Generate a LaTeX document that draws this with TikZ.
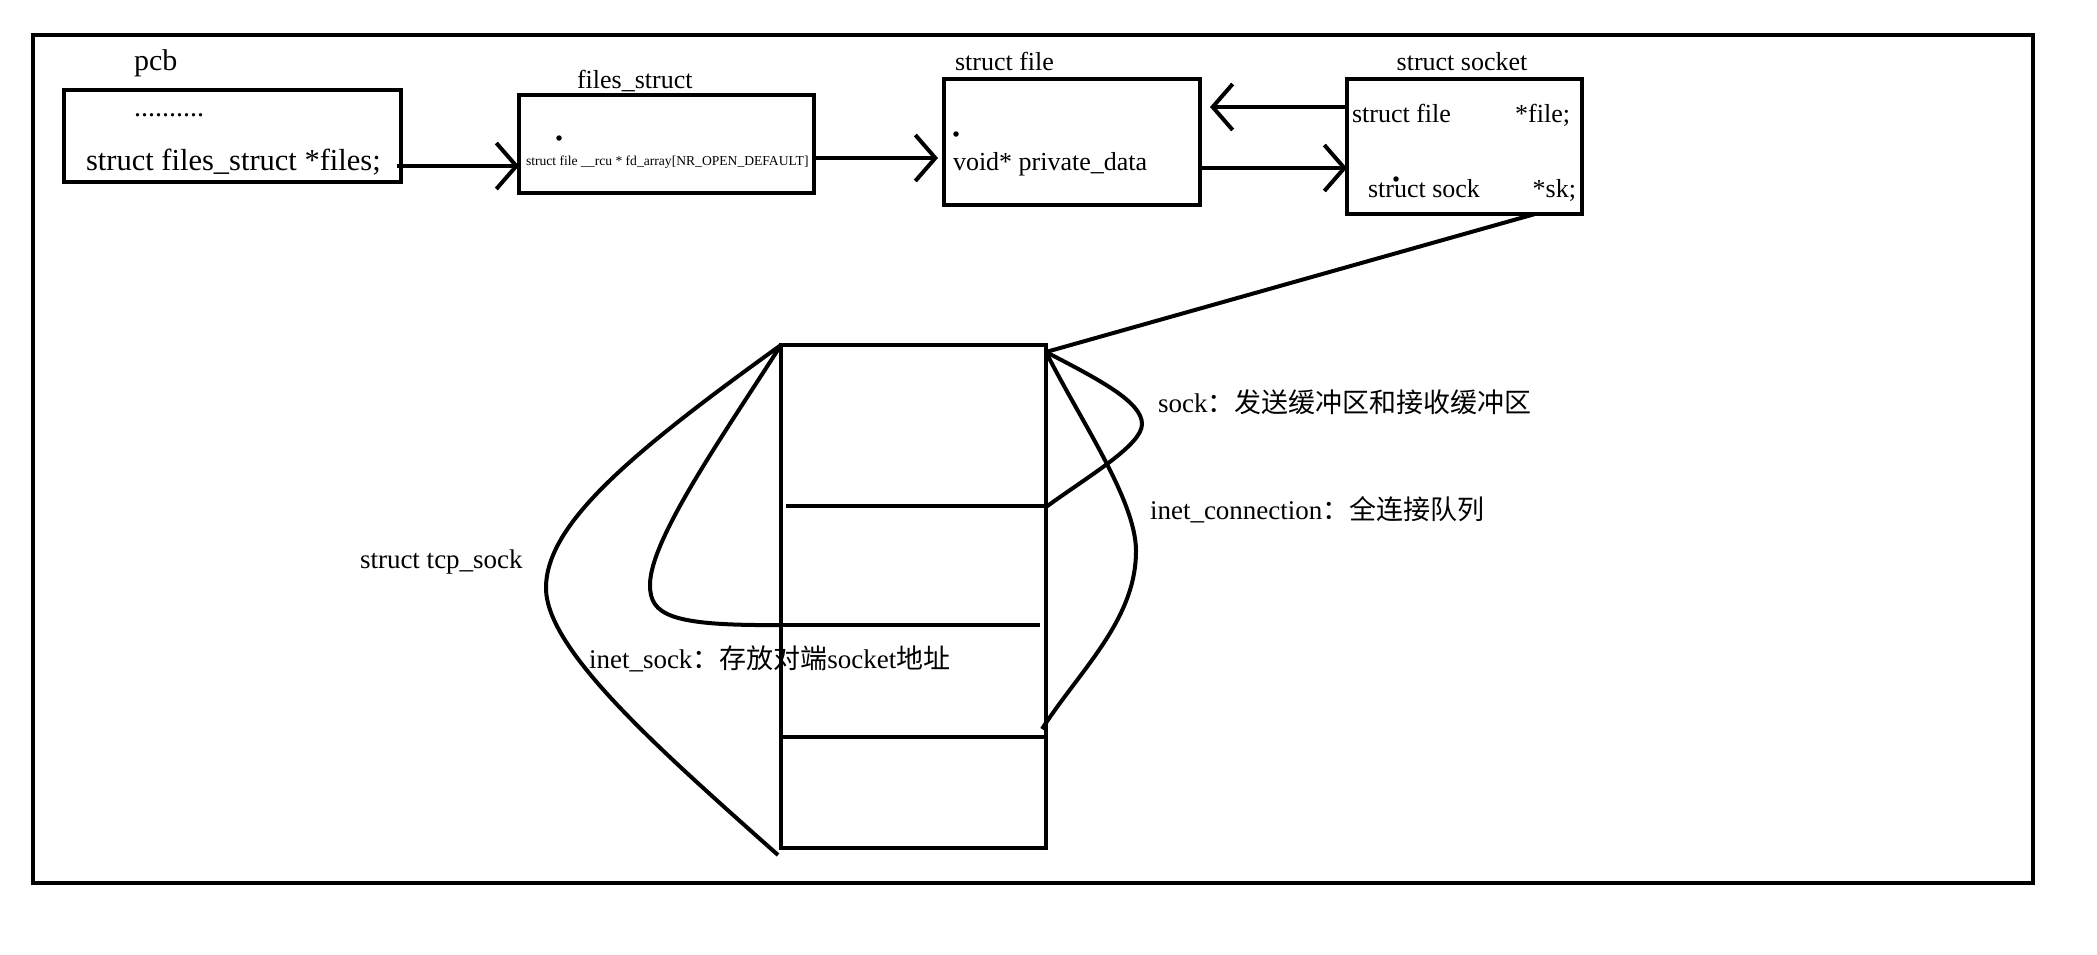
\documentclass[tikz,border=0pt]{standalone}
\usepackage{fontspec}
\setmainfont{Liberation Serif}
\newfontfamily\cjk{Noto Sans CJK SC}
\usetikzlibrary{arrows.meta}
\begin{document}
\begin{tikzpicture}[x=1pt,y=-1pt,
  box/.style={draw,line width=4.5pt,inner sep=0pt,outer sep=0pt},
  div/.style={line width=4pt},
  arr/.style={line width=4pt,-{Straight Barb[length=20pt,width=46pt]}},
  curve/.style={line width=4pt},
  txt/.style={inner sep=0pt,outer sep=0pt,anchor=base west},
  big/.style={font=\fontsize{30.5}{34}\selectfont},
  mid/.style={font=\fontsize{26}{30}\selectfont},
  lab/.style={font=\fontsize{27}{31}\selectfont},
  tiny/.style={font=\fontsize{13.6}{15}\selectfont},
  dotp/.style={circle,fill,inner sep=0pt,minimum size=5.5pt}]
\useasboundingbox (0,0) rectangle (2097,954);
\fill[white] (0,0) rectangle (2097,954);
% frame
\node[box,line width=4.5pt,minimum width=2000pt,minimum height=848pt] (frame) at (1033,459) {};
% boxes
\node[box,minimum width=337pt,minimum height=92pt] (pcb) at (232.5,136) {};
\node[box,minimum width=295pt,minimum height=98pt] (fs) at (666.5,144) {};
\node[box,minimum width=256pt,minimum height=126pt] (sf) at (1072,142) {};
\node[box,minimum width=235pt,minimum height=135pt] (sock) at (1464.5,146.5) {};
\node[box,minimum width=265pt,minimum height=503pt] (tcp) at (913.5,596.5) {};
% texts
\node[txt,font=\fontsize{30}{34}\selectfont] (pcbl) at (134,70) {pcb};
\node[txt,font=\fontsize{28}{30}\selectfont] (dots) at (134,116) {..........};
\node[txt,big] (files) at (86,170) {struct files\_struct *files;};
\node[txt,mid] (fsl) at (577,88) {files\_struct};
\node[txt,tiny] (fda) at (526,165) {struct file \_\_rcu * fd\_array[NR\_OPEN\_DEFAULT]};
\node[txt,mid] (sfl) at (955,70) {struct file};
\node[txt,mid] (pd) at (953,170) {void* private\_data};
\node[txt,mid,anchor=base] (sockl) at (1462,70) {struct socket};
\node[txt,mid] (sfile) at (1352,122) {struct file};
\node[txt,mid,anchor=base east] (pfile) at (1570,122) {*file;};
\node[txt,mid] (ssock) at (1368,197) {struct sock};
\node[txt,mid,anchor=base east] (psk) at (1576,197) {*sk;};
\node[txt,lab] (l1) at (1158,412) {sock{\cjk ：发送缓冲区和接收缓冲区}};
\node[txt,lab] (l2) at (1150,519) {inet\_connection{\cjk ：全连接队列}};
\node[txt,lab] (l3) at (360,568) {struct tcp\_sock};
\node[txt,lab] (l4) at (589,668) {inet\_sock{\cjk ：存放对端}socket{\cjk 地址}};
% stray dots
\node[dotp] (d1) at (559,138) {};
\node[dotp] (d2) at (956,134) {};
\node[dotp] (d3) at (1396,179) {};
% arrows
\coordinate (a1) at (397,166);
\draw[arr] (a1) -- (a1 -| fs.west);
\coordinate (a2) at (0,158);
\draw[arr,shorten >=6pt] (fs.east |- a2) -- (sf.west |- a2);
\coordinate (a3) at (0,107);
\draw[arr,shorten >=10pt] (sock.west |- a3) -- (sf.east |- a3);
\coordinate (a4) at (0,168);
\draw[arr] (sf.east |- a4) -- (sock.west |- a4);
% sk line
\coordinate (skp) at (1535,214);
\coordinate (tr) at (1046,352);
\draw[curve] (skp) -- (tr);
% dividers
\coordinate (h1) at (786,506);
\draw[div] (h1) -- (h1 -| tcp.east);
\coordinate (h2) at (781,625);
\coordinate (h2e) at (1040,625);
\draw[div] (h2) -- (h2e);
\coordinate (h3) at (781,737);
\draw[div] (h3) -- (h3 -| tcp.east);
% left curves
\coordinate (tl) at (tcp.north west);
\coordinate (bl) at (778,855);
\draw[curve] (tl) .. controls (628,455) and (546,525) .. (546,588)
  .. controls (546,650) and (660,750) .. (bl);
\draw[curve] (tl) .. controls (720,440) and (650,540) .. (650,585)
  .. controls (650,615) and (670,626) .. (h2);
% right curves
\coordinate (r1) at (1046,507);
\coordinate (r2) at (1042,729);
\draw[curve] (tr) .. controls (1100,380) and (1142,402) .. (1142,424)
  .. controls (1142,445) and (1090,475) .. (r1);
\draw[curve] (tr) .. controls (1080,420) and (1136,500) .. (1136,551)
  .. controls (1136,620) and (1080,670) .. (r2);
\end{tikzpicture}
\end{document}
